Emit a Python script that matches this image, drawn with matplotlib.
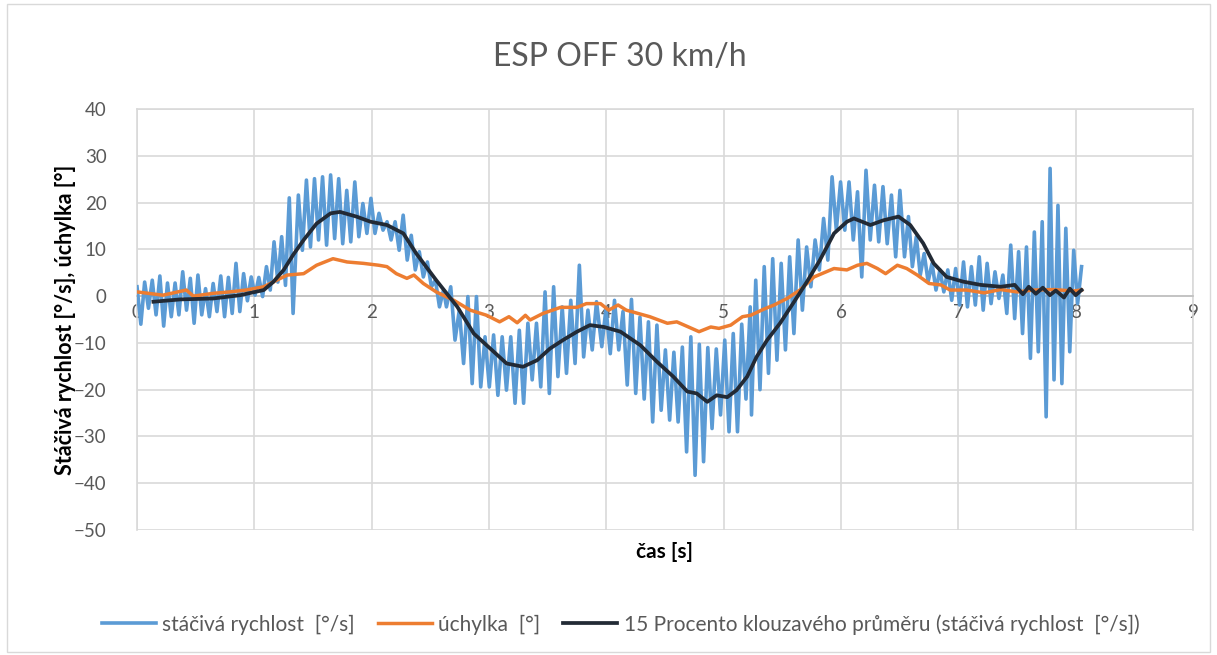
import numpy as np
import matplotlib.pyplot as plt
from matplotlib.patches import Rectangle

# yaw rate: successive peaks/troughs, one list per time span
yaw_spans = [(0.0, 1.33), (1.375, 2.612), (2.637, 3.916),
             (3.961, 5.226), (5.237, 6.502), (6.541, 8.05)]
yaw_a = [2, -6, 3, -2.6, 3.4, -4, 4.3, -6.4, 2.8, -4.4, 2.8, -4, 5.2, -3, 3.8, -5.8,
         4.5, -4, 1.6, -4.4, 2.7, -3.3, 4.3, -4.4, 4, -3.7, 7, -3.3, 4.8, -1, 4.1, 0.2,
         4, -0.1, 6.3, 1.3, 11.6, 3, 12.7, 2.3, 21, -3.7]
yaw_b = [21.6, 9.8, 24.8, 10.5, 25.1, 12, 25.5, 10.9, 25.9, 12.3, 25.1, 11.2, 22.6, 11.6,
         24.4, 12.7, 19.8, 13.4, 20.9, 13.4, 17.7, 14.1, 15.9, 12, 15.9, 9.8, 17.3, 7.7,
         13, 5.6, 9.5, 4.1, 7.3, 2, 3.4, -2.3, 1.3]
yaw_c = [-2.3, 2, -9.4, -3, -14.4, -0.1, -18.7, -0.1, -19.4, -8.7, -19.4, -8.3, -21.2,
         -8.7, -20.1, -8.7, -22.9, -7.3, -22.9, -5.8, -17.9, -5.8, -19.4, 0.9, -20.8, 2,
         -17.2, -2.3, -16.5, -0.9, -14.4, 6.6, -13, -3, -11.5, -1.2]
yaw_d = [-10.8, -2.5, -12.3, -0.9, -11.5, -3.3, -19, -0.7, -20.8, -4.5, -22, -5.5, -26.9,
         -6.2, -24.4, -11.5, -26.5, -12, -26.9, -10.9, -33.3, -8.7, -38.3, -10.3, -35.4,
         -11, -28.3, -11.3, -25.4, -9.4, -29, -8, -29, -6, -22, -2.3]
yaw_e = [-25.4, 3.4, -20, 6.3, -16.5, 8, -13.7, 7, -11.5, 8.4, -8, 12, -3, 10.5, 2, 12,
         5.6, 16.6, 7.7, 25.5, 14.1, 24.4, 14.1, 24.4, 12, 22.3, 4.1, 26.9, 12, 23.7, 11.6,
         23.4, 11.2, 21.6, 8.4, 22.6]
yaw_f = [8.4, 17, 6.3, 12.7, 4.5, 9.1, 3.1, 7, 1.3, 5.6, 0.9, 5.6, -0.9, 5.9, -1.9, 7.3,
         -2.3, 6.3, -1.9, 8.4, -3, 7, -1.6, 5.2, -0.5, 4.5, -3.7, 10.9, -4.8, 9.5, -8, 10.5,
         -13.3, 13.7, -11.9, 15.9, -25.8, 27.3, -17.9, 19.4, -18.7, 14.5, -11.9, 9.8, -1.6, 6.3]

# deflection angle
defl_t = [0, 0.22, 0.42, 0.48, 0.65, 0.79, 0.93, 1.08, 1.19, 1.28, 1.42, 1.53, 1.67, 1.79,
          1.93, 2.06, 2.13, 2.21, 2.30, 2.36, 2.44, 2.55, 2.70, 2.84, 2.98, 3.09, 3.17,
          3.24, 3.31, 3.35, 3.46, 3.61, 3.75, 3.83, 3.95, 4.02, 4.10, 4.17, 4.37, 4.52,
          4.60, 4.70, 4.79, 4.89, 4.96, 5.06, 5.16, 5.23, 5.34, 5.43, 5.54, 5.65, 5.77,
          5.94, 6.05, 6.14, 6.22, 6.31, 6.38, 6.48, 6.56, 6.65, 6.75, 6.85, 6.93, 7.07,
          7.22, 7.36, 7.50, 7.64, 7.81, 7.98, 8.05]
defl = [0.9, 0.2, 1.3, 0, 0.6, 0.9, 1.3, 2, 3.4, 4.5, 4.8, 6.6, 8, 7.3, 7, 6.6, 6.3, 4.8,
        3.8, 4.5, 2.7, 0.9, -0.9, -3, -4.1, -5.5, -4.4, -5.7, -4.1, -5.1, -3.7, -2.4, -2.4,
        -1.6, -1.6, -3, -1.9, -3, -4.4, -5.8, -5.5, -6.6, -7.6, -6.6, -6.9, -6.2, -4.4,
        -4.1, -2.8, -1.9, -0.5, 1.3, 4.1, 5.9, 5.6, 6.6, 7, 5.9, 4.8, 6.6, 5.9, 4.5, 2.7,
        2.4, 1.3, 1.3, 0.7, 1.4, 0.9, 1.3, 1.4, 1.1, 1.3]

# 15-point moving average of yaw rate
avg_t = [0.14, 0.37, 0.65, 0.88, 1.08, 1.16, 1.25, 1.33, 1.42, 1.53, 1.65, 1.73, 1.87,
         1.99, 2.13, 2.27, 2.38, 2.55, 2.73, 2.87, 3.01, 3.15, 3.29, 3.41, 3.52, 3.63,
         3.75, 3.86, 3.98, 4.12, 4.29, 4.43, 4.57, 4.69, 4.77, 4.86, 4.94, 5.03, 5.11,
         5.20, 5.28, 5.37, 5.48, 5.59, 5.71, 5.82, 5.94, 6.05, 6.11, 6.25, 6.36, 6.49,
         6.59, 6.70, 6.79, 6.90, 7.04, 7.19, 7.36, 7.48, 7.55, 7.60, 7.66, 7.72, 7.78,
         7.83, 7.90, 7.95, 8.00, 8.05]
avg = [-1.2, -0.7, -0.5, 0.2, 1.3, 3, 5.6, 8.8, 12, 15.5, 17.7, 18, 17, 15.9, 15.2, 13.4,
       9.1, 3.4, -2.3, -8, -11.2, -14.4, -15.1, -13.7, -11.2, -9.4, -7.6, -6.2, -6.6, -7.6,
       -10.5, -14, -17.2, -20.4, -20.8, -22.6, -21.2, -21.6, -20.1, -17.2, -13, -9.4, -5.8,
       -1.6, 3.1, 7.7, 13.4, 15.9, 16.6, 15.2, 16.2, 17, 15.2, 11.3, 7, 4.1, 3.1, 2.4, 2,
       2.4, 0.4, 2.0, 0.5, 1.8, 0.2, 1.2, -0.3, 1.6, 0.2, 1.3]

yaw_parts = [yaw_a, yaw_b, yaw_c, yaw_d, yaw_e, yaw_f]
yaw_t = np.concatenate([np.linspace(a, b, len(v)) for (a, b), v in zip(yaw_spans, yaw_parts)])
yaw = np.concatenate(yaw_parts)

plt.rcParams['font.family'] = ['Lato', 'DejaVu Sans']
grey = '#595959'

fig = plt.figure(figsize=(12.17, 6.55), dpi=100)
fig.patches.append(Rectangle((0.006, 0.004), 0.988, 0.99, transform=fig.transFigure,
                             fill=False, edgecolor='#d9d9d9', linewidth=1))
ax = fig.add_axes([0.1126, 0.1908, 0.8677, 0.6428])

ax.plot(yaw_t, yaw, color='#5B9BD5', linewidth=2.6, label='stáčivá rychlost  [°/s]', zorder=3)
ax.plot(defl_t, defl, color='#ED7D31', linewidth=2.5, label='úchylka  [°]', zorder=4)
ax.plot(avg_t, avg, color='#222A35', linewidth=2.7,
        label='15 Procento klouzavého průměru (stáčivá rychlost  [°/s])', zorder=5)

ax.set_xlim(0, 9)
ax.set_ylim(-50, 40)
ax.set_xticks(range(0, 10))
ax.set_yticks(range(-50, 41, 10))
ax.grid(True, color='#d9d9d9', linewidth=1.2, zorder=0)
ax.set_axisbelow(True)
for side in ['top', 'right', 'left']:
    ax.spines[side].set_color('#d9d9d9')
    ax.spines[side].set_linewidth(1.2)
ax.spines['bottom'].set_position(('data', 0))
ax.spines['bottom'].set_color('#bfbfbf')
ax.spines['bottom'].set_linewidth(1.2)
ax.tick_params(length=0, labelsize=13.5, labelcolor=grey)
ax.tick_params(axis='x', pad=6)
ax.tick_params(axis='y', pad=22)

fig.text(0.509, 0.913, 'ESP OFF 30 km/h', ha='center', va='center', fontsize=23, color=grey)
fig.text(0.054, 0.512, 'Stáčivá rychlost [°/s], úchylka [°]', ha='center', va='center',
         rotation=90, fontsize=15.5, fontweight='bold')
fig.text(0.546, 0.157, 'čas [s]', ha='center', va='center', fontsize=15, fontweight='bold')

fig.legend(loc='center', bbox_to_anchor=(0.51, 0.047), ncol=3, frameon=False,
           fontsize=15, labelcolor=grey, handlelength=2.6, columnspacing=1.1,
           handletextpad=0.3)

fig.savefig('out.png', dpi=100)
